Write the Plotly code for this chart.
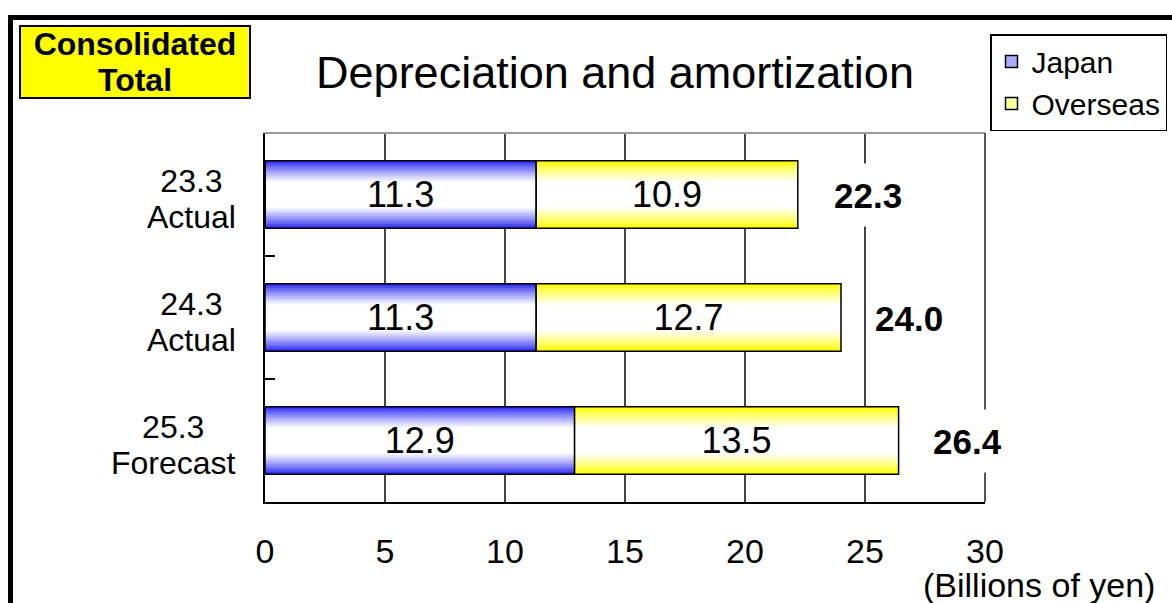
import plotly.graph_objects as go

# ---- data ----
categories = ["23.3", "24.3", "25.3"]
category_kinds = ["Actual", "Actual", "Forecast"]
japan = [11.3, 11.3, 12.9]
overseas = [10.9, 12.7, 13.5]
totals = [22.3, 24.0, 26.4]
x_ticks = [0, 5, 10, 15, 20, 25, 30]
series_names = ["Japan", "Overseas"]

FONT = "Liberation Sans, Arial, sans-serif"
BAR_W = 0.55
N_LAYERS = 16


def mix(c, t):
    return "rgb(%d,%d,%d)" % tuple(round(a + (255 - a) * t) for a in c)


fig = go.Figure()
series = [
    (series_names[0], japan, [0] * len(japan), (45, 45, 245)),
    (series_names[1], overseas, japan, (255, 255, 0)),
]
for name, vals, base, col in series:
    for k in range(N_LAYERS):
        frac = k / N_LAYERS
        t = min(1.0, frac / 0.6) ** 0.85
        fig.add_trace(go.Bar(
            y=categories, x=vals, base=base, orientation="h",
            width=BAR_W * (1 - frac),
            marker=dict(color=mix(col, t), line=dict(width=0)),
            showlegend=False, hoverinfo="skip",
        ))
    fig.add_trace(go.Bar(
        y=categories, x=vals, base=base, orientation="h", width=BAR_W,
        marker=dict(color="rgba(0,0,0,0)", line=dict(color="black", width=1.5)),
        text=[f"{v:.1f}" for v in vals], textposition="inside",
        insidetextanchor="middle", textangle=0,
        textfont=dict(size=36, color="black", family=FONT),
        showlegend=False, hoverinfo="skip",
    ))
    # legend-only swatch (zero-length bar)
    fig.add_trace(go.Bar(
        y=[categories[0]], x=[0], base=[0], orientation="h", name=name, width=BAR_W,
        marker=dict(color=mix(col, 0.6), line=dict(color="black", width=1.5)),
        hoverinfo="skip",
    ))

annotations = []
for i, tot in enumerate(totals):
    annotations.append(dict(
        x=tot, y=i, xref="x", yref="y", xanchor="left", yanchor="middle",
        xshift=32, text=f"<b>{tot:.1f}</b>", showarrow=False,
        font=dict(size=35, color="black", family=FONT),
        bgcolor="white", height=60,
    ))
for i, (c, kind) in enumerate(zip(categories, category_kinds)):
    annotations.append(dict(
        x=-0.0375, y=i, xref="paper", yref="y", xanchor="right", yanchor="middle",
        yshift=-4,
        text=f'<span style="font-size:32px">{c}</span><br><span style="font-size:32px">{kind}</span>',
        align="center", showarrow=False,
        font=dict(size=28, color="black", family=FONT),
    ))
annotations.append(dict(
    x=(135 - 265) / 720, y=(502 - 62) / 369, xref="paper", yref="paper",
    xanchor="center", yanchor="middle",
    text='<b><span style="font-size:32px">Consolidated</span><br><span style="font-size:32px">Total</span></b>',
    showarrow=False, font=dict(size=28, color="black", family=FONT),
    bgcolor="#ffff00", bordercolor="black", borderwidth=2, width=226, height=68,
))
annotations.append(dict(
    x=(921 - 265) / 720, y=(502 - 585) / 369, xref="paper", yref="paper",
    xanchor="left", yanchor="middle", text="(Billions of yen)",
    showarrow=False, font=dict(size=34, color="black", family=FONT),
))

shapes = [
    dict(type="rect", xref="paper", yref="paper",
         x0=(10.5 - 265) / 720, x1=1.6, y0=-0.6, y1=(502 - 17.5) / 369,
         line=dict(color="black", width=5), fillcolor="rgba(0,0,0,0)"),
    dict(type="line", xref="x domain", yref="y domain", x0=0, x1=1, y0=1, y1=1,
         line=dict(color="#9a9a9a", width=2)),
    dict(type="line", xref="x domain", yref="y domain", x0=1, x1=1, y0=0, y1=1,
         line=dict(color="#555555", width=2)),
]

fig.update_layout(
    width=1172, height=603,
    margin=dict(l=265, r=187, t=133, b=101, autoexpand=False),
    barmode="overlay",
    paper_bgcolor="white", plot_bgcolor="white",
    font=dict(family=FONT, color="black"),
    title=dict(text="Depreciation and amortization", x=615 / 1172, y=1 - 72 / 603,
               xref="container", yref="container", xanchor="center", yanchor="middle",
               font=dict(size=45, color="black", family=FONT)),
    xaxis=dict(range=[0, 30], tickvals=x_ticks, ticktext=[str(v) for v in x_ticks],
               showgrid=True, gridcolor="#444444", gridwidth=2, zeroline=False,
               showline=True, linecolor="black", linewidth=2,
               tickfont=dict(size=34, color="black", family=FONT),
               ticks="", ticklabelstandoff=18),
    yaxis=dict(type="category", categoryorder="array", categoryarray=categories,
               range=[len(categories) - 0.5, -0.5], showgrid=False, zeroline=False,
               showline=True, linecolor="black", linewidth=2,
               showticklabels=False, ticks="inside", tickson="boundaries",
               ticklen=10, tickwidth=2, tickcolor="black"),
    legend=dict(x=(990 - 265) / 720, y=(502 - 34) / 369, xanchor="left", yanchor="top",
                bordercolor="black", borderwidth=1.5, bgcolor="white",
                font=dict(size=30, color="black", family=FONT)),
    annotations=annotations,
    shapes=shapes,
)

fig.write_html("out.html", config={"displayModeBar": False},
               post_script="document.body.style.margin='0';document.body.style.overflow='hidden';")
